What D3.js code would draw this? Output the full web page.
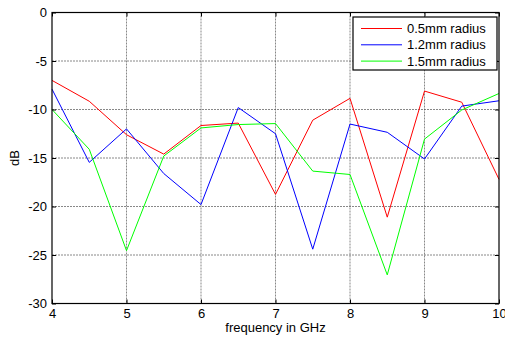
<!DOCTYPE html>
<html>
<head>
<meta charset="utf-8">
<script src="https://cdn.jsdelivr.net/npm/d3@7"></script>
<style>
  body { margin: 0; background: #fff; }
  text { font-family: Arial, "Liberation Sans", sans-serif; }
</style>
</head>
<body>
<div id="chart"></div>
<script>
// frequency points (GHz)
const freqs = [4, 4.5, 5, 5.5, 6, 6.5, 7, 7.5, 8, 8.5, 9, 9.5, 10];
// dB values
const r05 = [-7.0, -9.15, -12.6, -14.6, -11.65, -11.4, -18.75, -11.1, -8.85, -21.1, -8.1, -9.25, -17.2];
const r12 = [-7.9, -15.45, -12.0, -16.6, -19.8, -9.8, -12.5, -24.4, -11.5, -12.35, -15.1, -9.65, -9.1];
const r15 = [-10.0, -14.1, -24.55, -14.8, -11.9, -11.55, -11.45, -16.35, -16.7, -27.05, -13.05, -10.05, -8.35];
const seriesNames = ["0.5mm radius", "1.2mm radius", "1.5mm radius"];
const seriesColors = ["#ff0000", "#0000ff", "#00ff00"];
const xTicks = [4, 5, 6, 7, 8, 9, 10];
const yTicks = [0, -5, -10, -15, -20, -25, -30];

const width = 505, height = 338;
const margin = {left: 52, right: 6, top: 12.5, bottom: 34.5};

const svg = d3.select('#chart').append('svg')
    .attr('width', width)
    .attr('height', height);

const x = d3.scaleLinear().domain([4, 10]).range([margin.left, width - margin.right]);
const y = d3.scaleLinear().domain([-30, 0]).range([height - margin.bottom, margin.top]);

// grid
svg.append('g').selectAll('line')
    .data(xTicks.slice(1, -1))
    .enter().append('line')
    .attr('x1', d => x(d)).attr('x2', d => x(d))
    .attr('y1', y(0)).attr('y2', y(-30))
    .attr('stroke', '#555').attr('stroke-dasharray', '2,1').attr('stroke-opacity', 0.7);
svg.append('g').selectAll('line')
    .data(yTicks.slice(1, -1))
    .enter().append('line')
    .attr('x1', x(4)).attr('x2', x(10))
    .attr('y1', d => y(d)).attr('y2', d => y(d))
    .attr('stroke', '#555').attr('stroke-dasharray', '2,1').attr('stroke-opacity', 0.7);

// data lines
const allSeries = [r05, r12, r15];
const line = d3.line()
    .x((d, i) => x(freqs[i]))
    .y(d => y(d));

svg.append('g').selectAll('path')
    .data(allSeries)
    .enter().append('path')
    .attr('d', d => line(d))
    .attr('fill', 'none')
    .attr('stroke', (d, i) => seriesColors[i])
    .attr('stroke-width', 1);

// axes (MATLAB style: ticks inside, on all four sides)
const tl = 4;
svg.append('g')
    .attr('transform', `translate(0,${y(-30)})`)
    .call(d3.axisBottom(x).tickValues(xTicks).tickSize(-tl).tickPadding(5).tickFormat(d => String(d)));
svg.append('g')
    .attr('transform', `translate(0,${y(0)})`)
    .call(d3.axisTop(x).tickValues(xTicks).tickSize(-tl).tickFormat(''));
svg.append('g')
    .attr('transform', `translate(${x(4)},0)`)
    .call(d3.axisLeft(y).tickValues(yTicks).tickSize(-tl).tickPadding(5).tickFormat(d => String(d)));
svg.append('g')
    .attr('transform', `translate(${x(10)},0)`)
    .call(d3.axisRight(y).tickValues(yTicks).tickSize(-tl).tickFormat(''));

svg.selectAll('.domain').remove();
svg.selectAll('.tick line').attr('stroke', '#000');
svg.selectAll('.tick text')
    .attr('font-size', 13)
    .attr('font-family', 'Arial, "Liberation Sans", sans-serif')
    .attr('fill', '#000');

// frame
svg.append('rect')
    .attr('x', x(4)).attr('y', y(0))
    .attr('width', x(10) - x(4)).attr('height', y(-30) - y(0))
    .attr('fill', 'none').attr('stroke', '#000').attr('stroke-width', 1.2);

// axis labels
svg.append('text')
    .attr('x', (x(4) + x(10)) / 2).attr('y', 332)
    .attr('text-anchor', 'middle').attr('font-size', 13)
    .text('frequency in GHz');
svg.append('text')
    .attr('transform', `translate(19,${(y(0) + y(-30)) / 2}) rotate(-90)`)
    .attr('text-anchor', 'middle').attr('font-size', 13)
    .text('dB');

// legend
const lg = svg.append('g').attr('transform', 'translate(353,17)');
lg.append('rect')
    .attr('width', 144).attr('height', 53)
    .attr('fill', '#fff').attr('stroke', '#000').attr('stroke-width', 1.2);
const item = lg.selectAll('g.item')
    .data(seriesNames)
    .enter().append('g')
    .attr('class', 'item')
    .attr('transform', (d, i) => `translate(0,${11.5 + i * 16.3})`);
item.append('line')
    .attr('x1', 8).attr('x2', 49)
    .attr('stroke', (d, i) => seriesColors[i]);
item.append('text')
    .attr('x', 54).attr('dy', '0.35em')
    .attr('font-size', 13)
    .text(d => d);
</script>
</body>
</html>
